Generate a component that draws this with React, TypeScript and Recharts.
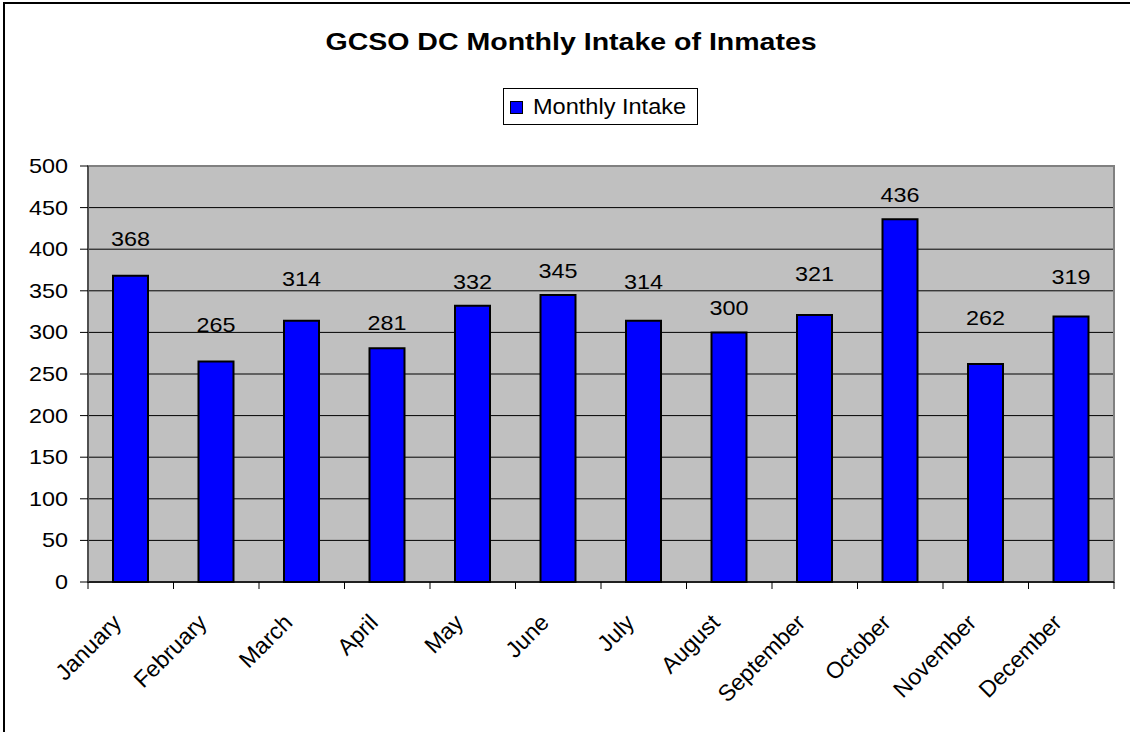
import React from 'react';
import { BarChart, Bar, XAxis, YAxis, CartesianGrid, LabelList, Legend, ReferenceArea } from 'recharts';

const months = ['January', 'February', 'March', 'April', 'May', 'June', 'July', 'August', 'September', 'October', 'November', 'December'];
const intake = [368, 265, 314, 281, 332, 345, 314, 300, 321, 436, 262, 319];
const yTicks = [0, 50, 100, 150, 200, 250, 300, 350, 400, 450, 500];
const seriesName = 'Monthly Intake';
const titleText = 'GCSO DC Monthly Intake of Inmates';

// label lift above bar top (px), as placed in the reference
const labelLift = [30, 30, 35, 18, 17, 17, 32, 17, 34, 17, 39, 33];

const data = months.map((m, i) => ({ month: m, value: intake[i] }));

const FONT = '"Liberation Sans", Arial, Helvetica, sans-serif';

const YTick = (props: any) => {
  const { x, y, payload } = props;
  return (
    <text
      transform={`translate(${x},${y}) scale(1.17,1)`}
      textAnchor="end"
      dy="0.35em"
      fontFamily={FONT}
      fontSize={20}
      fill="#000"
    >
      {payload.value}
    </text>
  );
};

const XTick = (props: any) => {
  const { x, y, payload, index, width, visibleTicksCount } = props;
  const half = payload && typeof payload.offset === 'number' && payload.offset > 0
    ? payload.offset
    : width / (visibleTicksCount || 12) / 2;
  const axisY = y - 8;
  const left = x - half;
  const right = x + half;
  const tx = x - 8;
  const ty = axisY + 42;
  return (
    <g>
      <line x1={left} y1={axisY} x2={left} y2={axisY + 7} stroke="#000" strokeWidth={1} />
      {index === (visibleTicksCount || 12) - 1 && (
        <line x1={right} y1={axisY} x2={right} y2={axisY + 7} stroke="#000" strokeWidth={1} />
      )}
      <text
        x={tx}
        y={ty}
        transform={`rotate(-45, ${tx}, ${ty})`}
        textAnchor="end"
        fontFamily={FONT}
        fontSize={23}
        fill="#000"
      >
        {payload.value}
      </text>
    </g>
  );
};

const BarLabel = (props: any) => {
  const { x, y, width, value, index } = props;
  const cx = x + width / 2;
  const by = y - labelLift[index];
  return (
    <text
      transform={`translate(${cx},${by}) scale(1.17,1)`}
      textAnchor="middle"
      fontFamily={FONT}
      fontSize={20}
      fill="#000"
    >
      {value}
    </text>
  );
};

const LegendBox = () => (
  <div
    style={{
      boxSizing: 'border-box',
      width: 195,
      height: 37,
      border: '1px solid #000',
      background: '#fff',
      position: 'relative',
      fontFamily: FONT,
    }}
  >
    <div
      style={{
        position: 'absolute',
        left: 6,
        top: 12,
        width: 13,
        height: 13,
        boxSizing: 'border-box',
        border: '1px solid #000',
        background: '#0000FF',
      }}
    />
    <span
      style={{
        position: 'absolute',
        left: 29,
        top: 5,
        fontSize: 22,
        lineHeight: '26px',
        color: '#000',
        whiteSpace: 'nowrap',
        transform: 'scaleX(1.07)',
        transformOrigin: 'left center',
      }}
    >
      {seriesName}
    </span>
  </div>
);

export default function App() {
  return (
    <div style={{ position: 'absolute', left: 0, top: 0, width: 1130, height: 732, background: '#fff', overflow: 'hidden' }}>
      <div
        style={{
          position: 'absolute',
          left: 3,
          top: 2,
          width: 1140,
          height: 740,
          borderTop: '2px solid #000',
          borderLeft: '2px solid #000',
          boxSizing: 'border-box',
        }}
      />
      <div
        style={{
          position: 'absolute',
          left: 0,
          top: 30.5,
          width: 1142,
          textAlign: 'center',
          fontFamily: FONT,
          fontWeight: 'bold',
          fontSize: 23,
          lineHeight: '23px',
          color: '#000',
          zIndex: 2,
        }}
      >
        <span style={{ display: 'inline-block', transform: 'scaleX(1.24)', whiteSpace: 'nowrap' }}>{titleText}</span>
      </div>
      <div style={{ position: 'absolute', left: 0, top: 0 }}>
        <BarChart
          width={1130}
          height={732}
          data={data}
          margin={{ top: 166, right: 16, left: 0, bottom: 0 }}
        >
          <CartesianGrid
            vertical={false}
            horizontal={true}
            stroke="#000"
            fill="#C0C0C0"
            fillOpacity={1}
          />
          <ReferenceArea y1={0} y2={500} fill="none" stroke="#808080" strokeWidth={2} ifOverflow="visible" />
          <XAxis
            dataKey="month"
            height={113}
            interval={0}
            tickSize={8}
            tickMargin={0}
            tickLine={false}
            axisLine={{ stroke: '#000', strokeWidth: 1.5 }}
            tick={<XTick />}
          />
          <YAxis
            width={88}
            domain={[0, 500]}
            ticks={yTicks}
            interval={0}
            tickSize={8}
            tickMargin={12}
            tickLine={{ stroke: '#000' }}
            axisLine={{ stroke: '#404040', strokeWidth: 1.5 }}
            tick={<YTick />}
          />
          <Legend
            content={<LegendBox />}
            wrapperStyle={{ position: 'absolute', left: 503, top: 88, width: 195, height: 37 }}
          />
          <Bar
            dataKey="value"
            name={seriesName}
            fill="#0000FF"
            stroke="#000"
            strokeWidth={2}
            barSize={35}
            isAnimationActive={false}
          >
            <LabelList dataKey="value" content={<BarLabel />} />
          </Bar>
        </BarChart>
      </div>
    </div>
  );
}
